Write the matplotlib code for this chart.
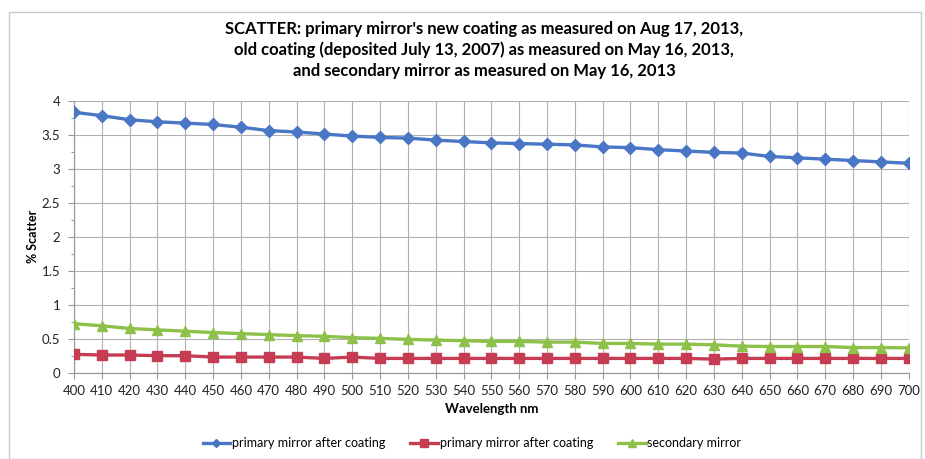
import matplotlib
matplotlib.use("Agg")
import matplotlib.pyplot as plt
from matplotlib.ticker import MultipleLocator
from matplotlib.patches import Rectangle

plt.rcParams['font.family'] = ['Lato', 'DejaVu Sans']

# Wavelength categories (nm)
wavelengths = [400, 410, 420, 430, 440, 450, 460, 470, 480, 490, 500,
               510, 520, 530, 540, 550, 560, 570, 580, 590, 600,
               610, 620, 630, 640, 650, 660, 670, 680, 690, 700]

# % scatter, primary mirror new coating (Aug 17, 2013)
primary_new = [3.83, 3.78, 3.72, 3.69, 3.67, 3.65, 3.61, 3.56, 3.54, 3.51, 3.48,
               3.46, 3.45, 3.42, 3.40, 3.38, 3.37, 3.36, 3.35, 3.32, 3.31,
               3.28, 3.26, 3.24, 3.23, 3.18, 3.16, 3.14, 3.12, 3.10, 3.08]

# % scatter, primary mirror old coating (May 16, 2013)
primary_old = [0.27, 0.26, 0.26, 0.25, 0.25, 0.23, 0.23, 0.23, 0.23, 0.21, 0.23,
               0.21, 0.21, 0.21, 0.21, 0.21, 0.21, 0.21, 0.21, 0.21, 0.21,
               0.21, 0.21, 0.20, 0.21, 0.21, 0.21, 0.21, 0.21, 0.21, 0.21]

# % scatter, secondary mirror (May 16, 2013)
secondary = [0.72, 0.69, 0.65, 0.63, 0.61, 0.59, 0.575, 0.56, 0.545, 0.535, 0.515,
             0.505, 0.49, 0.48, 0.47, 0.46, 0.46, 0.45, 0.45, 0.43, 0.43,
             0.42, 0.42, 0.41, 0.39, 0.385, 0.385, 0.385, 0.37, 0.37, 0.365]

series_labels = ["primary mirror after coating", "primary mirror after coating",
                 "secondary mirror"]

title_text = ("SCATTER: primary mirror's new coating as measured on Aug 17, 2013,\n"
              "old coating (deposited July 13, 2007) as measured on May 16, 2013,\n"
              "and secondary mirror as measured on May 16, 2013")

W, H = 925, 459
fig = plt.figure(figsize=(W / 100, H / 100), dpi=100)
fig.patch.set_facecolor("white")

# chart frame
fig.patches.append(Rectangle((9 / W, 0), (921 - 9) / W, 1 - 12 / H,
                             transform=fig.transFigure, fill=False,
                             edgecolor="#c8c8c8", linewidth=1.0))

ax = fig.add_axes([74 / W, 1 - 372.7 / H, (908.7 - 74) / W, (372.7 - 100.7) / H])

idx = list(range(len(wavelengths)))
ax.plot(idx, primary_new, color="#4A76C6", lw=2.4, marker="D", ms=6,
        label=series_labels[0], zorder=5)
ax.plot(idx, primary_old, color="#C63C52", lw=2.4, marker="s", ms=7,
        label=series_labels[1], zorder=5)
ax.plot(idx, secondary, color="#8DC149", lw=2.4, marker="^", ms=7,
        label=series_labels[2], zorder=5)

ax.set_xlim(0, len(wavelengths) - 1)
ax.set_ylim(0, 4)
ax.set_xticks(idx)
ax.set_xticklabels([str(w) for w in wavelengths], fontsize=9.5, color="#222222")
ax.yaxis.set_minor_locator(MultipleLocator(0.25))
ax.set_yticks([0, 0.5, 1, 1.5, 2, 2.5, 3, 3.5, 4])
ax.set_yticklabels(["0", "0.5", "1", "1.5", "2", "2.5", "3", "3.5", "4"],
                   fontsize=9.5, color="#222222")
ax.tick_params(axis="both", which="major", length=4, color="#9a9a9a", width=0.8)
ax.tick_params(axis="y", which="minor", length=2, color="#9a9a9a", width=0.8)
ax.tick_params(axis="x", pad=5)
ax.tick_params(axis="y", pad=6)

ax.grid(True, which="major", color="#b0b0b0", lw=0.8)
ax.set_axisbelow(True)
for s in ["top", "right"]:
    ax.spines[s].set_visible(False)
for s in ["left", "bottom"]:
    ax.spines[s].set_color("#9a9a9a")
    ax.spines[s].set_linewidth(0.9)

ax.set_xlabel("Wavelength nm", fontsize=9.5, fontweight="bold", labelpad=4)
ax.set_ylabel("% Scatter", fontsize=9, fontweight="bold", labelpad=2)

fig.text(484 / W, 1 - 50 / H, title_text, ha="center", va="center",
         fontsize=12, fontweight="bold", linespacing=1.35)

fig.legend(loc="center", bbox_to_anchor=(472 / W, 1 - 443 / H), ncol=3,
           frameon=False, fontsize=9, handlelength=2.2, handletextpad=0.15,
           columnspacing=2.0, markerscale=0.75)

fig.savefig("out.png", dpi=100)
